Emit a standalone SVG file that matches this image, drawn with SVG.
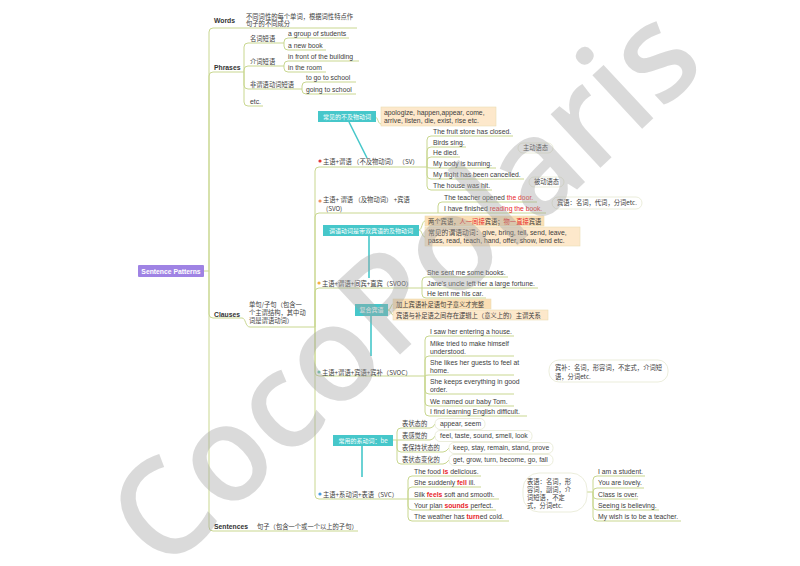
<svg xmlns="http://www.w3.org/2000/svg" width="800" height="566" viewBox="0 0 800 566">
<style>
.en{font-family:"Liberation Sans","Noto Sans CJK SC",sans-serif;font-size:6.8px;fill:#3d3d3d}
.cn{font-family:"Noto Sans CJK SC","Liberation Sans",sans-serif;font-size:6.3px;fill:#3d3d3d}
.b{font-weight:bold;fill:#333}
.red{fill:#e8262b}
.rb{fill:#e8262b;font-weight:bold}
.ln{fill:none;stroke:#c9d790;stroke-width:1}
.teal{fill:#46c7ca}
.tl{stroke:#46c7ca;stroke-width:1.6;fill:none}
.wt{fill:#fff}
.beige{fill:#fde8cb;stroke:#eadcb4;stroke-width:0.6}
.sum{fill:#fff;stroke:#e6e9d2;stroke-width:0.8}
.wm{font-family:"Open Sans","Liberation Sans",sans-serif;font-weight:600;font-size:135px;fill:#a0a0a0;opacity:0.38}
</style>
<rect width="800" height="566" fill="#fff"/>
<g id="connectors">
<path class="ln" d="M204,271 H209"/>
<path class="ln" d="M209,271 V32 Q209,28 213,28 H357"/>
<path class="ln" d="M209,271 V76 Q209,72 213,72 H244"/>
<path class="ln" d="M209,271 V314 Q209,318 213,318 H242 C246,318 245,327 250,327 H315"/>
<path class="ln" d="M209,271 V527 Q209,531 213,531 H358"/>
<path class="ln" d="M244,72 V47 Q244,43 248,43 H284"/>
<path class="ln" d="M244,72 V70 Q244,66 248,66 H284"/>
<path class="ln" d="M244,72 V85 Q244,89 248,89 H302"/>
<path class="ln" d="M244,72 V102 Q244,106 248,106 H263"/>
<path class="ln" d="M284,43 V42 Q284,38 288,38 H349"/>
<path class="ln" d="M284,43 V46 Q284,50 288,50 H326"/>
<path class="ln" d="M284,66 V65 Q284,61 288,61 H359"/>
<path class="ln" d="M284,66 V68 Q284,72 288,72 H326"/>
<path class="ln" d="M302,89 V86 Q302,82 306,82 H356"/>
<path class="ln" d="M302,89 V90 Q302,94 306,94 H356"/>
<path class="ln" d="M315,327 V171 Q315,167 319,167 H427"/>
<path class="ln" d="M315,327 V217 Q315,213 319,213 H438"/>
<path class="ln" d="M315,327 V292 Q315,288 319,288 H422"/>
<path class="ln" d="M315,327 V372 Q315,376 319,376 H425"/>
<path class="ln" d="M315,327 V495 Q315,499 319,499 H408"/>
<path class="ln" d="M427,167 V140 Q427,136 431,136 H513"/>
<path class="ln" d="M427,167 V151 Q427,147 431,147 H466"/>
<path class="ln" d="M427,167 V161 Q427,157 431,157 H460"/>
<path class="ln" d="M427,167 Q427,168 431,168 H496"/>
<path class="ln" d="M427,167 V175 Q427,179 431,179 H524"/>
<path class="ln" d="M427,167 V186 Q427,190 431,190 H492"/>
<path class="ln" d="M438,213 V206 Q438,202 442,202 H537"/>
<path class="ln" d="M438,213 H546"/>
<path class="ln" d="M422,288 V281 Q422,277 426,277 H508"/>
<path class="ln" d="M422,288 H538"/>
<path class="ln" d="M422,288 V294 Q422,298 426,298 H486"/>
<path class="ln" d="M425,376 V340 Q425,336 429,336 H514"/>
<path class="ln" d="M425,376 V360 Q425,356 429,356 H514"/>
<path class="ln" d="M425,376 Q425,375 429,375 H514"/>
<path class="ln" d="M425,376 V390 Q425,394 429,394 H514"/>
<path class="ln" d="M425,376 V402 Q425,406 429,406 H514"/>
<path class="ln" d="M425,376 V412 Q425,416 429,416 H527"/>
<path class="ln" d="M408,499 V480 Q408,476 412,476 H481"/>
<path class="ln" d="M408,499 V491 Q408,487 412,487 H481"/>
<path class="ln" d="M408,499 H499"/>
<path class="ln" d="M408,499 V506 Q408,510 412,510 H496"/>
<path class="ln" d="M408,499 V517 Q408,521 412,521 H509"/>
<path class="ln" d="M587,492 H593 V480 Q593,476 597,476 H645"/>
<path class="ln" d="M593,492 Q593,488 597,488 H644"/>
<path class="ln" d="M593,492 V495 Q593,499 597,499 H638"/>
<path class="ln" d="M593,492 V506 Q593,510 597,510 H659"/>
<path class="ln" d="M593,492 V517 Q593,521 597,521 H681"/>
<path class="ln" d="M375,117 C378,117 378,124 381,124"/>
<path class="ln" d="M419,230 C422,230 422,221 425,221"/>
<path class="ln" d="M419,230 C422,230 422,237 425,237"/>
<path class="ln" d="M388,310 C391,310 391,304 393,304"/>
<path class="ln" d="M388,310 C391,310 391,315 393,315"/>
<path class="ln" d="M393,440 H397 V432 Q397,428 401,428 H430"/>
<path class="ln" d="M397,440 H430"/>
<path class="ln" d="M397,440 V448 Q397,452 401,452 H443"/>
<path class="ln" d="M397,440 V460 Q397,464 401,464 H443"/>
<path class="ln" d="M430,428 Q433,428 435,424"/>
<path class="ln" d="M430,440 Q433,440 435,436"/>
<path class="ln" d="M443,452 Q446,452 449,448"/>
<path class="ln" d="M443,464 Q446,464 449,460"/>
<path class="tl" d="M349,122 L367,158"/>
<path class="tl" d="M369,236 V278"/>
<path class="tl" d="M371,316 V356"/>
<path class="tl" d="M362,446 V477"/>
</g>
<g id="root"><rect x="138" y="265" width="66" height="12" rx="1" fill="#9f83e4"/><text class="en b" x="171" y="273.5" text-anchor="middle" style="fill:#fff">Sentence Patterns</text></g>
<g id="words"><text class="en b" x="214" y="22.5">Words</text></g>
<g id="words-def"><text class="cn" x="246" y="18.5">不同词性的每个单词，根据词性特点作</text><text class="cn" x="246" y="26">句子的不同成分</text></g>
<g id="phrases"><text class="en b" x="214" y="69.5">Phrases</text></g>
<g id="np"><text class="cn" x="250" y="41.3">名词短语</text></g>
<g id="np1"><text class="en" x="288" y="36">a group of students</text></g>
<g id="np2"><text class="en" x="288" y="48">a new book</text></g>
<g id="pp"><text class="cn" x="250" y="64.3">介词短语</text></g>
<g id="pp1"><text class="en" x="288" y="59">in front of the building</text></g>
<g id="pp2"><text class="en" x="288" y="70">in the room</text></g>
<g id="vp"><text class="cn" x="250" y="87.3">非谓语动词短语</text></g>
<g id="vp1"><text class="en" x="306" y="80">to go to school</text></g>
<g id="vp2"><text class="en" x="306" y="92">going to school</text></g>
<g id="etc"><text class="en" x="250" y="104">etc.</text></g>
<g id="clauses"><text class="en b" x="214" y="316.5">Clauses</text></g>
<g id="clauses-def"><text class="cn" x="249" y="306.5">单句/子句（包含一</text><text class="cn" x="249" y="314.5">个主谓结构，其中动</text><text class="cn" x="249" y="322.5">词是谓语动词）</text></g>
<g id="sentences"><text class="en b" x="214" y="529">Sentences</text></g>
<g id="sentences-def"><text class="cn" x="257" y="529">句子（包含一个或一个以上的子句）</text></g>

<g id="sv"><circle cx="320" cy="161" r="1.6" fill="#e53935"/><text class="cn" x="323" y="163.5">主语+谓语 （不及物动词） （SV）</text></g>
<g id="sv-note"><rect class="teal" x="318" y="111" width="58" height="11"/><text class="cn wt" x="347" y="118.7" text-anchor="middle" style="fill:#fff;font-size:6px">常见的不及物动词</text></g>
<g id="sv-verbs"><rect class="beige" x="381" y="107" width="115" height="19"/><text class="en" x="384" y="114.5">apologize, happen,appear, come,</text><text class="en" x="384" y="122.5">arrive, listen, die, exist, rise etc.</text></g>
<g id="sv1"><text class="en" x="433" y="133.5">The fruit store has closed.</text></g>
<g id="sv2"><text class="en" x="433" y="144.5">Birds sing.</text></g>
<g id="sv3"><text class="en" x="433" y="154.5">He died.</text></g>
<g id="sv4"><text class="en" x="433" y="165.5">My body is burning.</text></g>
<g id="sv5"><text class="en" x="433" y="176.5">My flight has been cancelled.</text></g>
<g id="sv6"><text class="en" x="433" y="187.5">The house was hit.</text></g>
<g id="active"><rect class="sum" x="518" y="143" width="35" height="10" rx="5"/><text class="cn" x="535.5" y="150.3" text-anchor="middle">主动语态</text></g>
<g id="passive"><rect class="sum" x="529" y="177" width="35" height="10" rx="5"/><text class="cn" x="546.5" y="184.3" text-anchor="middle">被动语态</text></g>

<g id="svo"><circle cx="320" cy="201" r="1.6" fill="#f0915e"/><text class="cn" x="323" y="201.5">主语+ 谓语 （及物动词） +宾语</text><text class="cn" x="326" y="210.5">(SVO)</text></g>
<g id="svo1"><text class="en" x="444" y="199.5">The teacher opened <tspan class="red">the door.</tspan></text></g>
<g id="svo2"><text class="en" x="444" y="210.5">I have finished <tspan class="red">reading the book.</tspan></text></g>
<g id="svo-sum"><rect class="sum" x="552" y="197" width="90" height="12" rx="6"/><text class="cn" x="557" y="205.3">宾语：名词，代词，分词etc.</text></g>
<g id="svoo-note"><rect class="teal" x="323" y="225" width="96" height="11"/><text class="cn" x="371" y="232.7" text-anchor="middle" style="fill:#fff;font-size:6px">谓语动词是带双宾语的及物动词</text></g>
<g id="svoo-objs"><rect class="beige" x="425" y="216" width="119" height="10" style="fill:#fbdfb4"/><text class="cn" x="428" y="223.5">两个宾语，<tspan class="red">人一间接</tspan>宾语；<tspan class="red">物一直接</tspan>宾语</text></g>
<g id="svoo-verbs"><rect class="beige" x="425" y="227" width="155" height="19"/><text class="en" x="428" y="234.5">常见的谓语动词：give, bring, tell, send, leave,</text><text class="en" x="428" y="242.5">pass, read, teach, hand, offer, show, lend etc.</text></g>

<g id="svoo"><circle cx="319" cy="283" r="1.6" fill="#f5b041"/><text class="cn" x="322" y="285.5">主语+谓语+间宾+直宾（SVOO）</text></g>
<g id="svoo1"><text class="en" x="427" y="274.5">She sent me some books.</text></g>
<g id="svoo2"><text class="en" x="427" y="285.5">Jane's uncle left her a large fortune.</text></g>
<g id="svoo3"><text class="en" x="427" y="295.5">He lent me his car.</text></g>
<g id="svoc-note"><rect class="teal" x="355" y="304" width="33" height="12"/><text class="cn" x="371.5" y="312.3" text-anchor="middle" style="fill:#fff;font-size:6px">复合宾语</text></g>
<g id="svoc-n1"><rect class="beige" x="393" y="299" width="98" height="10" style="fill:#fbdfb4"/><text class="cn" x="396" y="306.5">加上宾语补足语句子意义才完整</text></g>
<g id="svoc-n2"><rect class="beige" x="393" y="310" width="155" height="10"/><text class="cn" x="396" y="317.5">宾语与补足语之间存在逻辑上（意义上的）主谓关系</text></g>

<g id="svoc"><circle cx="319" cy="372" r="1.6" fill="#6cc4b0"/><text class="cn" x="322" y="374.5">主语+谓语+宾语+宾补（SVOC）</text></g>
<g id="svoc1"><text class="en" x="430" y="333.5">I saw her entering a house.</text></g>
<g id="svoc2"><text class="en" x="430" y="345.5">Mike tried to make himself</text><text class="en" x="430" y="353.5">understood.</text></g>
<g id="svoc3"><text class="en" x="430" y="364.5">She likes her guests to feel at</text><text class="en" x="430" y="372.5">home.</text></g>
<g id="svoc4"><text class="en" x="430" y="383.5">She keeps everything in good</text><text class="en" x="430" y="391.5">order.</text></g>
<g id="svoc5"><text class="en" x="430" y="403.5">We named our baby Tom.</text></g>
<g id="svoc6"><text class="en" x="430" y="413.5">I find learning English difficult.</text></g>
<g id="svoc-sum"><rect class="sum" x="549" y="360" width="119" height="22" rx="10"/><text class="cn" x="555" y="369.5">宾补：名词，形容词，不定式，介词短</text><text class="cn" x="555" y="378.5">语，分词etc.</text></g>

<g id="svc-note"><rect class="teal" x="333" y="435" width="60" height="11"/><text class="cn" x="363" y="442.7" text-anchor="middle" style="fill:#fff;font-size:6px">常用的系动词：be</text></g>
<g id="lv1"><text class="cn" x="402" y="425.5">表状态的</text></g>
<g id="lv1v"><rect class="sum" x="435" y="418.5" width="50" height="11" rx="5"/><text class="en" x="440" y="426">appear, seem</text></g>
<g id="lv2"><text class="cn" x="402" y="437.5">表感觉的</text></g>
<g id="lv2v"><rect class="sum" x="435" y="430.5" width="97" height="11" rx="5"/><text class="en" x="440" y="438">feel, taste, sound, smell, look</text></g>
<g id="lv3"><text class="cn" x="402" y="449.5">表保持状态的</text></g>
<g id="lv3v"><rect class="sum" x="449" y="442.5" width="104" height="11" rx="5"/><text class="en" x="453" y="450">keep, stay, remain, stand, prove</text></g>
<g id="lv4"><text class="cn" x="402" y="461.5">表状态变化的</text></g>
<g id="lv4v"><rect class="sum" x="449" y="454.5" width="104" height="11" rx="5"/><text class="en" x="453" y="462">get, grow, turn, become, go, fall</text></g>

<g id="svc"><circle cx="320" cy="494" r="1.6" fill="#4a9ee0"/><text class="cn" x="323" y="496.5">主语+系动词+表语（SVC）</text></g>
<g id="svc1"><text class="en" x="414" y="473.5">The food <tspan class="rb">is</tspan> delicious.</text></g>
<g id="svc2"><text class="en" x="414" y="485">She suddenly <tspan class="rb">fell</tspan> ill.</text></g>
<g id="svc3"><text class="en" x="414" y="496.5">Silk <tspan class="rb">feels</tspan> soft and smooth.</text></g>
<g id="svc4"><text class="en" x="414" y="507.5">Your plan <tspan class="rb">sounds</tspan> perfect.</text></g>
<g id="svc5"><text class="en" x="414" y="518.5">The weather has <tspan class="rb">turn</tspan>ed cold.</text></g>
<g id="svc-sum"><rect class="sum" x="523" y="473" width="64" height="39" rx="16"/><text class="cn" x="527" y="483.5">表语：名词，形</text><text class="cn" x="527" y="491.5">容词，副词，介</text><text class="cn" x="527" y="499.5">词短语，不定</text><text class="cn" x="527" y="507.5">式，分词etc.</text></g>
<g id="svc-s1"><text class="en" x="598" y="473.5">I am a student.</text></g>
<g id="svc-s2"><text class="en" x="598" y="485">You are lovely.</text></g>
<g id="svc-s3"><text class="en" x="598" y="496.5">Class is over.</text></g>
<g id="svc-s4"><text class="en" x="598" y="507.5">Seeing is believing.</text></g>
<g id="svc-s5"><text class="en" x="598" y="518.5">My wish is to be a teacher.</text></g>

<text class="wm" transform="translate(436,321) rotate(-43)" text-anchor="middle" textLength="745" lengthAdjust="spacingAndGlyphs">CocoPolaris</text>
</svg>
